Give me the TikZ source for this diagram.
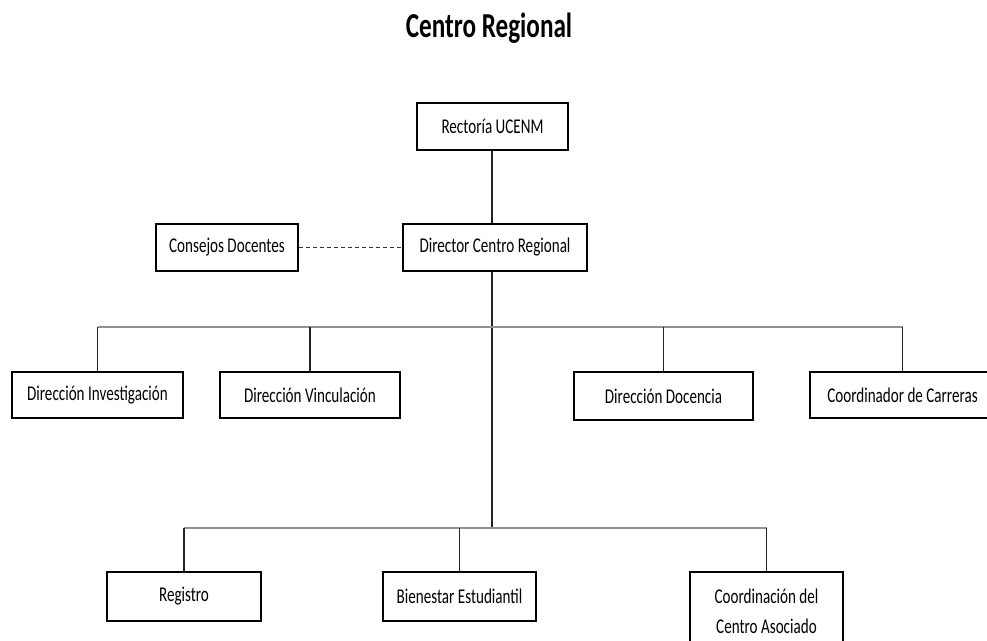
\documentclass[tikz,border=0pt]{standalone}
\usepackage{fontspec}
\setmainfont{Carlito}[FakeStretch=0.72]
\begin{document}
\begin{tikzpicture}[x=1pt,y=-1pt,
  box/.style={draw=black,line width=1.6pt,inner sep=0pt,align=center,
    font=\fontsize{21}{33}\selectfont},
  vline/.style={draw={rgb,255:red,35;green,35;blue,35},line width=1.6pt},
  busline/.style={draw={rgb,255:red,145;green,145;blue,145},line width=2.3pt},
  dashline/.style={draw={rgb,255:red,50;green,50;blue,50},line width=1.6pt,dash pattern=on 4.5pt off 2.5pt}]
\clip (0,0) rectangle (987,640);
\fill[white] (0,0) rectangle (987,640);

\node[anchor=base,font=\fontsize{35}{40}\selectfont\bfseries] (title) at (489,37) {Centro Regional};

\node[box,minimum width=151pt,minimum height=47pt] (rect) at (492.5,126.5) {Rectoría UCENM};
\node[box,minimum width=184pt,minimum height=47pt] (dir) at (495,247.5) {Director Centro Regional};
\node[box,minimum width=142pt,minimum height=47pt] (cons) at (227,247.5) {Consejos Docentes};

\node[box,minimum width=171pt,minimum height=46pt] (inv) at (97.5,395) {Dirección Investigación};
\node[box,minimum width=180pt,minimum height=46pt] (vin) at (310,395) {Dirección Vinculación};
\node[box,minimum width=179pt,minimum height=48pt] (doc) at (663.5,396) {Dirección Docencia};
\node[box,minimum width=185pt,minimum height=46pt] (coo) at (902.5,395) {Coordinador de Carreras};

\node[box,minimum width=154pt,minimum height=49pt] (reg) at (184,596.5) {Registro};
\node[box,minimum width=153pt,minimum height=49pt] (bie) at (459.5,596.5) {Bienestar Estudiantil};
\node[box,minimum width=153pt,minimum height=78pt,font=\fontsize{21}{30}\selectfont] (cca) at (766.5,611) {Coordinación del\\Centro Asociado};

\coordinate (b1) at (492,327);
\coordinate (b2) at (492,528);

\draw[vline] (rect.south -| b1) -- (dir.north -| b1);
\draw[dashline] (cons.east) -- (dir.west);
\draw[vline] (dir.south -| b1) -- (b2);

\draw[busline] (b1 -| inv.north) -- (b1 -| coo.north);
\draw[vline] (b1 -| inv.north) -- (inv.north);
\draw[vline] (b1 -| vin.north) -- (vin.north);
\draw[vline] (b1 -| doc.north) -- (doc.north);
\draw[vline] (b1 -| coo.north) -- (coo.north);

\draw[busline] (b2 -| reg.north) -- (b2 -| cca.north);
\draw[vline] (b2 -| reg.north) -- (reg.north);
\draw[vline] (b2 -| bie.north) -- (bie.north);
\draw[vline] (b2 -| cca.north) -- (cca.north);
\end{tikzpicture}
\end{document}
